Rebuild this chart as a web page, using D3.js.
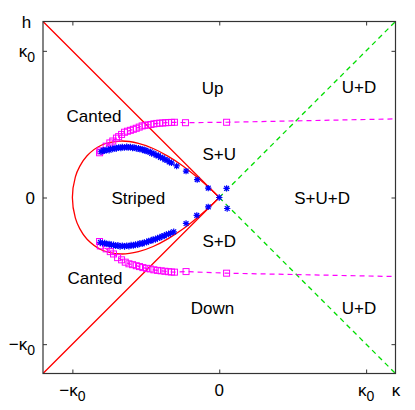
<!DOCTYPE html>
<html>
<head>
<meta charset="utf-8">
<script src="https://cdn.jsdelivr.net/npm/d3@7"></script>
<style>
  body { margin: 0; background: #fff; }
  svg text { font-family: "Liberation Sans", Arial, sans-serif; font-size: 17px; fill: #000; }
</style>
</head>
<body>
<svg id="chart" width="415" height="410"></svg>
<script>
// phase boundaries (kappa, h), in units of kappa0
const redBoundary = [[-1.2, 1.2], [0, 0], [-1.2, -1.2]];
const greenUpper = [[0, 0], [1.2, 1.2]];
const greenLower = [[0, 0], [1.2, -1.2]];

// striped region outline, upper half (lower half is its mirror)
const stripedKappa = [0, -0.05, -0.15, -0.25, -0.35, -0.45, -0.55, -0.67, -0.8, -0.9, -0.95, -0.98, -1.0];
const stripedH     = [0, 0.049, 0.138, 0.217, 0.282, 0.334, 0.369, 0.385, 0.358, 0.285, 0.212, 0.139, 0];

// blue stars (upper / lower branch)
const starUpperKappa = [-0.805, -0.79, -0.78, -0.765, -0.75, -0.74, -0.725, -0.71, -0.7, -0.685, -0.67, -0.66,
  -0.645, -0.63, -0.62, -0.605, -0.59, -0.58, -0.565, -0.55, -0.54, -0.525, -0.51, -0.5, -0.485, -0.47,
  -0.46, -0.445, -0.43, -0.415, -0.4, -0.385, -0.37, -0.355, -0.34, -0.325, -0.29, -0.226, -0.15, -0.075, 0, 0.05];
const starUpperH = [0.312, 0.322, 0.318, 0.326, 0.322, 0.332, 0.33, 0.338, 0.334, 0.342, 0.338, 0.344,
  0.34, 0.346, 0.34, 0.344, 0.338, 0.342, 0.334, 0.336, 0.328, 0.33, 0.32, 0.322, 0.312, 0.312,
  0.3, 0.3, 0.288, 0.286, 0.274, 0.27, 0.258, 0.254, 0.242, 0.236, 0.215, 0.18, 0.122, 0.064, 0, 0.062];
const starLowerKappa = [-0.81, -0.795, -0.78, -0.765, -0.75, -0.735, -0.72, -0.705, -0.69, -0.675, -0.66, -0.645,
  -0.63, -0.615, -0.6, -0.585, -0.57, -0.555, -0.54, -0.525, -0.51, -0.495, -0.48, -0.465, -0.45, -0.435,
  -0.42, -0.405, -0.39, -0.375, -0.36, -0.345, -0.33, -0.31, -0.226, -0.153, -0.075, 0.054];
const starLowerH = [-0.305, -0.312, -0.31, -0.318, -0.316, -0.324, -0.322, -0.33, -0.326, -0.334, -0.328, -0.334,
  -0.328, -0.332, -0.324, -0.328, -0.32, -0.322, -0.312, -0.316, -0.306, -0.306, -0.296, -0.296, -0.286, -0.286,
  -0.276, -0.274, -0.264, -0.262, -0.252, -0.25, -0.242, -0.234, -0.177, -0.122, -0.064, -0.075];

// magenta squares (upper / lower branch); the last entry lies beyond the frame
const sqUpperKappa = [-0.815, -0.81, -0.77, -0.745, -0.725, -0.7, -0.685, -0.665, -0.645, -0.625, -0.605, -0.585,
  -0.565, -0.545, -0.525, -0.505, -0.485, -0.465, -0.445, -0.425, -0.405, -0.385, -0.365, -0.345, -0.325, -0.305,
  -0.23, 0.05, 1.5];
const sqUpperH = [0.305, 0.318, 0.35, 0.372, 0.385, 0.405, 0.415, 0.43, 0.445, 0.452, 0.458, 0.465,
  0.472, 0.48, 0.488, 0.492, 0.495, 0.498, 0.502, 0.505, 0.507, 0.508, 0.51, 0.511, 0.512, 0.513,
  0.51, 0.513, 0.542];
const sqLowerKappa = [-0.815, -0.81, -0.77, -0.742, -0.72, -0.692, -0.665, -0.64, -0.615, -0.59, -0.565, -0.543,
  -0.52, -0.495, -0.47, -0.445, -0.42, -0.395, -0.37, -0.345, -0.325, -0.305, -0.226, 0.05, 1.5];
const sqLowerH = [-0.3, -0.33, -0.35, -0.369, -0.385, -0.41, -0.425, -0.441, -0.452, -0.458, -0.465, -0.471,
  -0.478, -0.483, -0.487, -0.493, -0.497, -0.5, -0.503, -0.506, -0.508, -0.509, -0.505, -0.516, -0.545];

// ticks (kappa0 = 1)
const tickValues = [-1, 0, 1];
const xTickLabels = [{ main: "\u2212\u03ba", sub: "0" }, { main: "0", sub: "" }, { main: "\u03ba", sub: "0" }];
const yTickLabels = [{ main: "\u2212\u03ba", sub: "0" }, { main: "0", sub: "" }, { main: "\u03ba", sub: "0" }];

// region names
const regionNames = ["Up", "U+D", "Canted", "S+U", "Striped", "S+U+D", "S+D", "Canted", "Down", "U+D"];
const regionKappa = [-0.046, 0.951, -0.853, 0, -0.551, 0.70, 0, -0.846, -0.046, 0.951];
const regionH     = [0.708, 0.711, 0.512, 0.254, -0.044, -0.044, -0.335, -0.589, -0.793, -0.793];

const svg = d3.select("#chart");
const plotLeft = 43, plotRight = 395.5, plotTop = 21.5, plotBottom = 373.5;

const x = d3.scaleLinear().domain([-1.2, 1.2]).range([plotLeft, plotRight]);
const y = d3.scaleLinear().domain([-1.2, 1.2]).range([plotBottom, plotTop]);

svg.append("defs").append("clipPath").attr("id", "plot-clip")
  .append("rect")
  .attr("x", plotLeft).attr("y", plotTop)
  .attr("width", plotRight - plotLeft).attr("height", plotBottom - plotTop);

// axes: inward ticks on all four sides
const axisColor = "#333";
const mkAxis = (g) => g.call(s => s.select(".domain").remove())
  .call(s => s.selectAll(".tick line").attr("stroke", axisColor))
  .call(s => s.selectAll(".tick text").remove());

svg.append("g").attr("transform", `translate(0,${plotBottom})`)
  .call(d3.axisBottom(x).tickValues(tickValues).tickSizeInner(-4).tickSizeOuter(0)).call(mkAxis);
svg.append("g").attr("transform", `translate(0,${plotTop})`)
  .call(d3.axisTop(x).tickValues(tickValues).tickSizeInner(-4).tickSizeOuter(0)).call(mkAxis);
svg.append("g").attr("transform", `translate(${plotLeft},0)`)
  .call(d3.axisLeft(y).tickValues(tickValues).tickSizeInner(-4).tickSizeOuter(0)).call(mkAxis);
svg.append("g").attr("transform", `translate(${plotRight},0)`)
  .call(d3.axisRight(y).tickValues(tickValues).tickSizeInner(-4).tickSizeOuter(0)).call(mkAxis);

const plot = svg.append("g").attr("clip-path", "url(#plot-clip)");
const line = d3.line().x(d => x(d[0])).y(d => y(d[1]));

// phase boundaries
plot.append("path").attr("d", line(redBoundary))
  .attr("fill", "none").attr("stroke", "#ff0000").attr("stroke-width", 1.3);
[greenUpper, greenLower].forEach(seg => {
  plot.append("path").attr("d", line(seg))
    .attr("fill", "none").attr("stroke", "#00dd00").attr("stroke-width", 1.3)
    .attr("stroke-dasharray", "5,4");
});

// striped region outline
const upperPts = stripedKappa.map((k, i) => [k, stripedH[i]]);
const lowerPts = stripedKappa.map((k, i) => [k, -stripedH[i]]).reverse().slice(1);
plot.append("path")
  .attr("d", d3.line().x(d => x(d[0])).y(d => y(d[1])).curve(d3.curveCatmullRom)(upperPts.concat(lowerPts)))
  .attr("fill", "none").attr("stroke", "#ff0000").attr("stroke-width", 1.3);

// magenta squares with dashed connecting line
const sqSeries = [
  sqUpperKappa.map((k, i) => [k, sqUpperH[i]]),
  sqLowerKappa.map((k, i) => [k, sqLowerH[i]])
];
sqSeries.forEach(pts => {
  plot.append("path").attr("d", line(pts))
    .attr("fill", "none").attr("stroke", "#ff00ff").attr("stroke-width", 1.2)
    .attr("stroke-dasharray", "5,4");
  plot.selectAll(null).data(pts).enter().append("rect")
    .attr("x", d => x(d[0]) - 3).attr("y", d => y(d[1]) - 3)
    .attr("width", 6).attr("height", 6)
    .attr("fill", "none").attr("stroke", "#ff00ff").attr("stroke-width", 1);
});

// blue stars
const starPath = (r) => `M${-r},0H${r}M0,${-r}V${r}M${-r * 0.75},${-r * 0.75}L${r * 0.75},${r * 0.75}M${-r * 0.75},${r * 0.75}L${r * 0.75},${-r * 0.75}`;
const stars = starUpperKappa.map((k, i) => [k, starUpperH[i]])
  .concat(starLowerKappa.map((k, i) => [k, starLowerH[i]]));
plot.selectAll(null).data(stars).enter().append("path")
  .attr("transform", d => `translate(${x(d[0])},${y(d[1])})`)
  .attr("d", starPath(3.2))
  .attr("fill", "none").attr("stroke", "#0000ff").attr("stroke-width", 1.2);

// frame
svg.append("rect")
  .attr("x", plotLeft).attr("y", plotTop)
  .attr("width", plotRight - plotLeft).attr("height", plotBottom - plotTop)
  .attr("fill", "none").attr("stroke", axisColor).attr("stroke-width", 1.2);

// tick labels with subscripts
function addLabel(sel, lab) {
  sel.append("tspan").text(lab.main);
  if (lab.sub) {
    sel.append("tspan").attr("dy", 5).attr("font-size", 14).text(lab.sub);
  }
}
tickValues.forEach((v, i) => {
  const t = svg.append("text").attr("x", x(v)).attr("y", plotBottom + 22).attr("text-anchor", "middle");
  addLabel(t, xTickLabels[i]);
  const u = svg.append("text").attr("x", plotLeft - 8).attr("y", y(v) + 6).attr("text-anchor", "end");
  addLabel(u, yTickLabels[i]);
});

// axis titles
svg.append("text").attr("x", 396).attr("y", plotBottom + 22).attr("text-anchor", "middle").text("\u03ba");
svg.append("text").attr("x", 26.5).attr("y", 28).attr("text-anchor", "middle").text("h");

// region names
svg.selectAll(null).data(regionNames).enter().append("text")
  .attr("x", (d, i) => x(regionKappa[i]))
  .attr("y", (d, i) => y(regionH[i]))
  .attr("text-anchor", "middle")
  .text(d => d);
</script>
</body>
</html>
